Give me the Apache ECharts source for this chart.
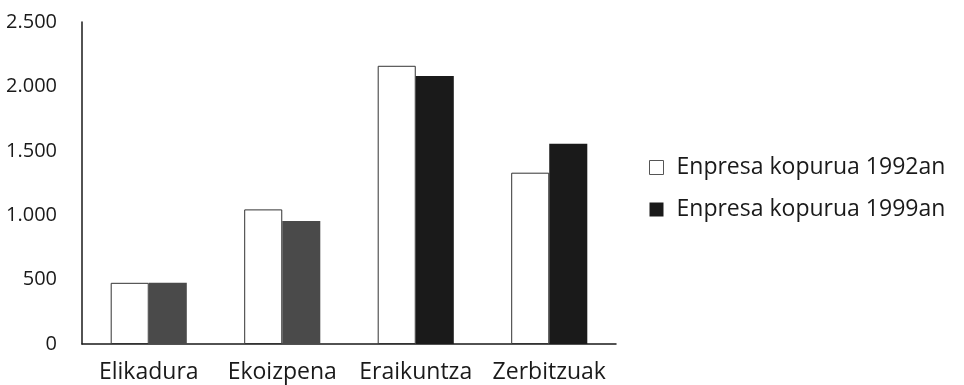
<!DOCTYPE html>
<html>
<head>
<meta charset="utf-8">
<script src="https://cdn.jsdelivr.net/npm/echarts@6/dist/echarts.min.js"></script>
<style>
html,body{margin:0;padding:0;background:#fff;}
#c{width:964px;height:385px;}
</style>
</head>
<body>
<div id="c"></div>
<script>
const categories = ['Elikadura', 'Ekoizpena', 'Eraikuntza', 'Zerbitzuak'];
const seriesNames = ['Enpresa kopurua 1992an', 'Enpresa kopurua 1999an'];
const values1992 = [475, 1045, 2160, 1330];
const values1999 = [475, 955, 2080, 1555];
const yTicks = [0, 500, 1000, 1500, 2000, 2500];

const FONT = 'Open Sans';
const darkColors = ['#4a4a4a', '#4a4a4a', '#1a1a1a', '#1a1a1a'];

const chart = echarts.init(document.getElementById('c'), null, {renderer: 'canvas'});
chart.setOption({
  animation: false,
  backgroundColor: '#fff',
  grid: {left: 82, right: 348, top: 22, bottom: 41, containLabel: false},
  legend: {
    orient: 'vertical',
    left: 644,
    top: 151,
    itemWidth: 14,
    itemHeight: 14,
    itemGap: 19,
    icon: 'rect',
    textStyle: {fontFamily: FONT, fontSize: 23, color: '#1a1a1a', padding: [0, 0, 0, 8]},
    data: [
      {name: seriesNames[0], itemStyle: {color: '#fff', borderColor: '#555', borderWidth: 1}},
      {name: seriesNames[1], itemStyle: {color: '#1a1a1a'}}
    ]
  },
  xAxis: {
    type: 'category',
    data: categories,
    axisLine: {show: true, lineStyle: {color: '#1a1a1a', width: 1.5}},
    axisTick: {show: false},
    axisLabel: {fontFamily: FONT, fontSize: 23, color: '#1a1a1a', margin: 17, interval: 0, hideOverlap: false}
  },
  yAxis: {
    type: 'value',
    min: yTicks[0],
    max: yTicks[yTicks.length - 1],
    interval: 500,
    axisLine: {show: true, lineStyle: {color: '#1a1a1a', width: 1.5}},
    axisTick: {show: false},
    splitLine: {show: false},
    axisLabel: {
      fontFamily: FONT, fontSize: 20, color: '#1a1a1a', margin: 25,
      padding: [0, 0, 5, 0],
      formatter: v => v >= 1000 ? Math.floor(v / 1000) + '.' + String(v % 1000).padStart(3, '0') : String(v)
    }
  },
  series: [
    {
      name: seriesNames[0], type: 'bar', data: values1992,
      barGap: '0%', barCategoryGap: '43%',
      itemStyle: {color: '#fff', borderColor: '#333', borderWidth: 1}
    },
    {
      name: seriesNames[1], type: 'bar',
      data: values1999.map((v, i) => ({value: v, itemStyle: {color: darkColors[i]}})),
      barGap: '0%', barCategoryGap: '43%',
      itemStyle: {color: '#1a1a1a'}
    }
  ]
});
</script>
</body>
</html>
